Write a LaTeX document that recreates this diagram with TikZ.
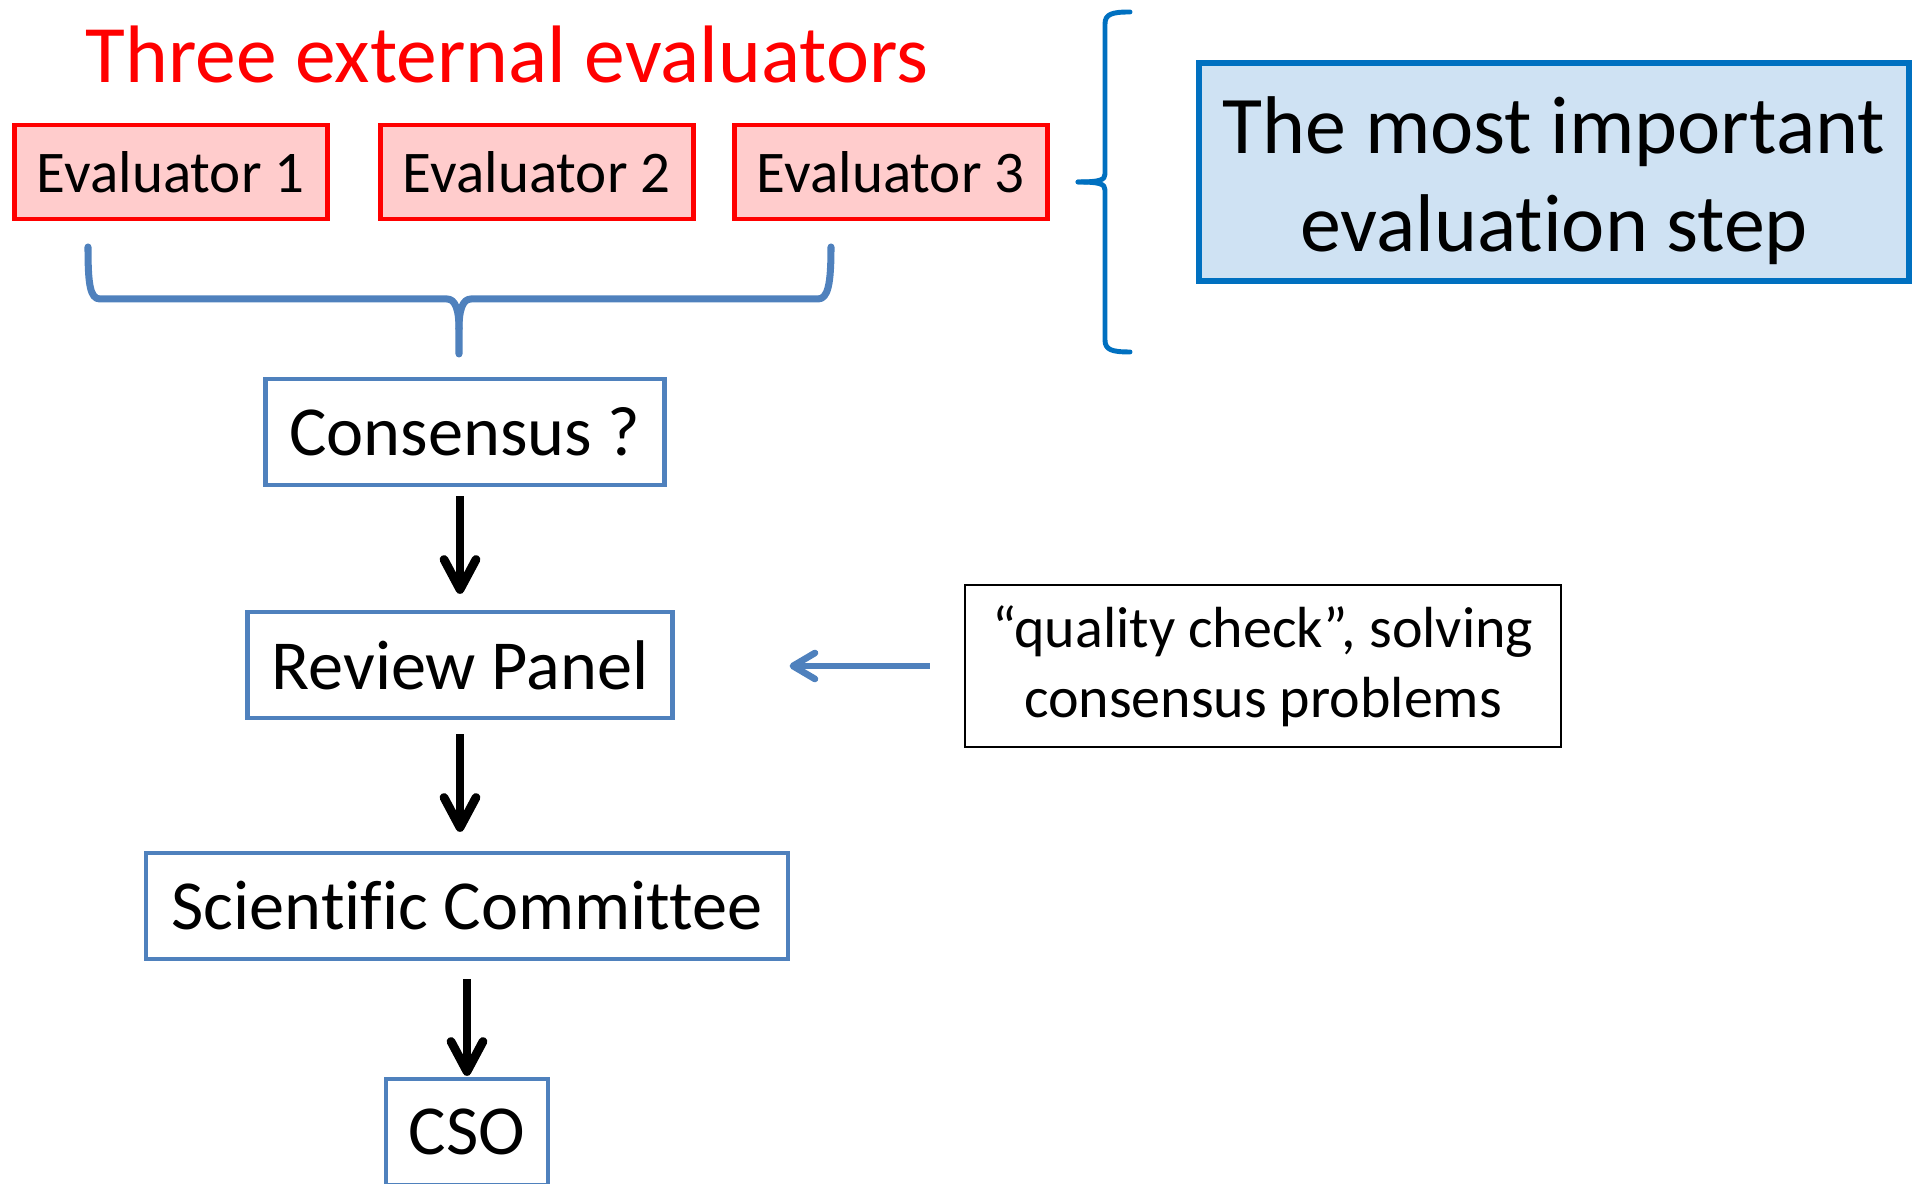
\documentclass[tikz,border=0pt]{standalone}
\usepackage{fontspec}
\setmainfont{Carlito}[Ligatures=NoCommon]
\usetikzlibrary{arrows.meta}
\definecolor{evalred}{RGB}{255,0,0}
\definecolor{evalfill}{RGB}{255,204,204}
\definecolor{flowblue}{RGB}{79,129,189}
\definecolor{keyblue}{RGB}{0,112,192}
\definecolor{keyfill}{RGB}{207,226,243}
\begin{document}
\begin{tikzpicture}[>={Straight Barb[round,length=3mm,width=3.2mm]},
    evalbox/.style={draw=evalred, fill=evalfill, line width=1.4pt, minimum width=3.13cm, minimum height=0.94cm, inner sep=0pt, font=\fontsize{16.8}{20}\selectfont},
    flowbox/.style={draw=flowblue, line width=1.2pt, minimum height=1.06cm, inner sep=0pt, font=\fontsize{20}{24}\selectfont},
    notebox/.style={draw, line width=0.6pt, minimum width=5.96cm, minimum height=1.62cm, align=center, inner sep=0pt, font=\fontsize{16.5}{20}\selectfont},
    keybox/.style={draw=keyblue, fill=keyfill, line width=1.7pt, minimum width=7.1cm, minimum height=2.18cm, align=center, inner sep=0pt, font=\fontsize{23.3}{28}\selectfont},
    flow/.style={->, line width=2.5pt},
    brace/.style={line width=2pt, line cap=round, line join=round}]
                \useasboundingbox (0,0) rectangle (19.16,11.84);

                % Nodes
                \node[font=\fontsize{23.2}{28}\selectfont, text=evalred, anchor=base] (title) at (5.07,11.01) {Three external evaluators};
                \node[evalbox] (e1) at (1.71,10.12) {Evaluator 1};
                \node[evalbox] (e2) at (5.37,10.12) {Evaluator 2};
                \node[evalbox] (e3) at (8.91,10.12) {Evaluator 3};
                \node[keybox] (key) at (15.54,10.12) {\rule{0pt}{21pt}The most important\\evaluation step};
                \node[flowbox, minimum width=3.99cm] (cons) at (4.65,7.52) {Consensus ?};
                \node[flowbox, minimum width=4.25cm] (rp) at (4.60,5.19) {Review Panel};
                \node[flowbox, minimum width=6.42cm] (sc) at (4.67,2.78) {Scientific Committee};
                \node[flowbox, minimum width=1.62cm] (cso) at (4.67,0.52) {CSO};
                \node[notebox] (qc) at (12.63,5.18) {“quality check”, solving\\consensus problems};

                % Braces
                \draw[brace, flowblue] (0.88,9.37) .. controls (0.88,9.0) and (0.9,8.85) .. (1.0,8.85) -- (4.47,8.85)
                    .. controls (4.55,8.85) and (4.59,8.75) .. (4.59,8.55) -- (4.59,8.30);
                \draw[brace, flowblue] (4.59,8.55) .. controls (4.59,8.75) and (4.63,8.85) .. (4.71,8.85) -- (8.18,8.85)
                    .. controls (8.28,8.85) and (8.31,9.0) .. (8.31,9.37);
                \draw[brace, keyblue, line width=1.4pt] (11.30,11.72) .. controls (11.12,11.72) and (11.05,11.70) .. (11.05,11.6) -- (11.05,10.1)
                    .. controls (11.05,10.04) and (11.0,10.02) .. (10.78,10.02);
                \draw[brace, keyblue, line width=1.4pt] (10.78,10.02) .. controls (11.0,10.02) and (11.05,10.0) .. (11.05,9.94) -- (11.05,8.44)
                    .. controls (11.05,8.34) and (11.12,8.32) .. (11.30,8.32);

                % Edges
                \draw[flow, shorten <=0.09cm, shorten >=0.16cm] (rp.north |- cons.south) -- (rp.north);

                \draw[flow, shorten <=0.14cm, shorten >=0.19cm] (rp.south) -- (rp.south |- sc.north);

                \draw[flow, shorten <=0.18cm, shorten >=0.01cm] (sc.south) -- (sc.south |- cso.north);

                \draw[->, flowblue, line width=1.9pt, >={Straight Barb[round,length=2.2mm,width=2.6mm]}, shorten <=0.34cm, shorten >=1.15cm] (qc.west) -- (rp.east |- qc.west);
            \end{tikzpicture}
\end{document}
